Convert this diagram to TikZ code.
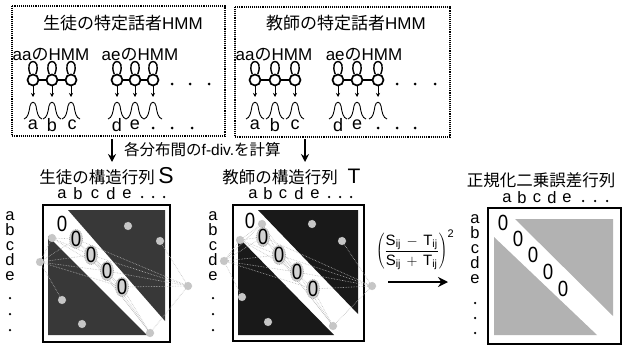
\documentclass[tikz,border=0pt]{standalone}
\usepackage{fontspec}
\setmainfont{Liberation Sans}
\newfontfamily\jp{Noto Sans CJK JP}
\usetikzlibrary{arrows.meta,shapes.geometric}
\definecolor{darkS}{gray}{0.22}
\definecolor{darkT}{gray}{0.10}
\definecolor{lightR}{gray}{0.70}
\begin{document}
\begin{tikzpicture}[x=1pt,y=-1pt,
  st/.style={circle,draw,line width=1.7pt,minimum size=11pt,inner sep=0pt},
  lbl/.style={inner sep=0pt,font=\fontsize{18}{18}\selectfont},
  rlbl/.style={inner sep=0pt,font=\fontsize{16.5}{16.5}\selectfont},
  rcol/.style={inner sep=0pt,align=center,font=\fontsize{16.5}{15}\selectfont},
  ttl/.style={inner sep=0pt,font=\fontsize{17}{17}\selectfont},
  mttl/.style={inner sep=0pt,font=\fontsize{16.5}{17}\selectfont},
  hmmt/.style={inner sep=0pt,font=\fontsize{17}{17}\selectfont},
  zero/.style={inner sep=0pt,font=\fontsize{22}{22}\selectfont,xscale=0.85},
  zring/.style={ellipse,draw=gray!70,densely dotted,line width=0.8pt,fill=gray!35,inner sep=0pt,minimum width=13pt,minimum height=19pt},
  dotn/.style={circle,fill,inner sep=0pt,minimum size=3pt},
  gnode/.style={circle,draw=gray!50,fill=gray!45,densely dotted,inner sep=0pt,minimum size=8pt},
  gedge/.style={gray!55,densely dotted,line width=0.6pt},
  box/.style={draw,densely dotted,line width=1.1pt},
  big/.style={-{Stealth[length=8pt,width=8pt]},line width=2.2pt}]
\useasboundingbox (0,0) rectangle (623,345);

% ---------------- top boxes ----------------
\draw[box] (12,6) rectangle (225,136);
\draw[box] (235,7) rectangle (450,137);
\node[ttl] (tl) at (123,23) {{\jp 生徒の特定話者}HMM};
\node[ttl] (tr) at (346,23) {{\jp 教師の特定話者}HMM};
\node[hmmt] (h1) at (51,55) {aa{\jp の}HMM};
\node[hmmt] (h2) at (140,55) {ae{\jp の}HMM};
\node[hmmt] (h3) at (274,55) {aa{\jp の}HMM};
\node[hmmt] (h4) at (364,55) {ae{\jp の}HMM};

% states
\foreach \n/\x in {1/33,2/52,3/71,4/117,5/135,6/153,7/255,8/275,9/295,10/338,11/357,12/378}{
  \node[st] (s\n) at (\x,80) {};
  \draw[line width=1.4pt] (s\n.115) .. controls +(-7,-17) and +(7,-17) .. (s\n.65);
  \coordinate (g\n) at (\x,97);
  \draw[-{Stealth[length=4pt,width=4pt]},line width=0.8pt] (s\n) -- (g\n);
  \draw[line width=0.9pt] (\x-9,119) .. controls (\x-5,118) and (\x-4,112) .. (\x-3,106)
        .. controls (\x-2,101) and (\x+2,101) .. (\x+3,106)
        .. controls (\x+4,112) and (\x+5,118) .. (\x+9,119);
}
\foreach \a/\b in {1/2,2/3,4/5,5/6,7/8,8/9,10/11,11/12}{
  \draw[line width=1.7pt] (s\a) -- (s\b);
}
\foreach \n/\x in {1/172,2/190,3/209,4/397,5/415,6/435}{
  \node[dotn] (d\n) at (\x,84) {};
}
% emitted symbols
\foreach \n/\x/\t in {1/33/a,2/52/b,3/72/c,4/117/d,5/135/e,6/255/a,7/275/b,8/295/c,9/338/d,10/357/e}{
  \node[lbl] (o\n) at (\x,125) {\t};
}
\foreach \n/\x in {1/153,2/172,3/192,4/378,5/397,6/415}{
  \node[dotn] (od\n) at (\x,128) {};
}

% ---------------- arrows and f-div text ----------------
\coordinate (a1s) at (112,139);
\coordinate (a1e) at (112,162);
\coordinate (a2s) at (305,139);
\coordinate (a2e) at (305,162);
\draw[big] (a1s) -- (a1e);
\draw[big] (a2s) -- (a2e);
\node[inner sep=0pt,font=\fontsize{15.5}{16}\selectfont,anchor=west] (fdiv) at (124,150) {{\jp 各分布間の}f-div.{\jp を計算}};

% ---------------- matrix S ----------------
\node[mttl,anchor=east] (sT) at (155,177) {\jp 生徒の構造行列};
\node[inner sep=0pt,font=\fontsize{23}{23}\selectfont] (sS) at (166,176) {S};
\fill[darkS] (68,210) -- (165,210) -- (165,321) -- cycle;
\fill[darkS] (48,236) -- (48,335) -- (147,335) -- cycle;
\draw[line width=1.5pt] (43,205) rectangle (170,342);
\foreach \n/\x in {1/62,2/78,3/95,4/111,5/127}{
  \node[rlbl] (sc\n) at (\x,194) {\ifcase\n\or a\or b\or c\or d\or e\fi};
}
\foreach \n/\x in {1/142,2/153,3/164}{\node[dotn,minimum size=2.5pt] (scd\n) at (\x,197) {};}
\node[rcol] (srows) at (10,246) {a\\b\\c\\d\\e};
\foreach \n/\y in {1/298,2/314,3/330}{\node[dotn,minimum size=2.5pt] (srd\n) at (10,\y) {};}
% graph overlay S
\node[gnode] (sn1) at (40,262) {};
\node[gnode] (sn2) at (52,238) {};
\node[gnode] (sn3) at (128,226) {};
\node[gnode] (sn4) at (160,241) {};
\node[gnode] (sn5) at (62,300) {};
\node[gnode] (sn6) at (82,324) {};
\node[gnode] (sn7) at (150,333) {};
\node[gnode] (sn8) at (188,286) {};
\coordinate (sz2) at (76,239);
\coordinate (sz3) at (91,255);
\coordinate (sz4) at (107,271);
\coordinate (sz5) at (122,287);
\foreach \u/\v in {sn1/sn2,sn1/sz2,sn1/sz3,sn1/sz4,sn1/sz5,sn1/sn5,sn2/sz2,sn2/sz3,
  sn8/sz2,sn8/sz3,sn8/sz4,sn8/sz5,sn8/sn7,sn8/sn4,sn7/sz3,sn7/sz4,sn7/sz5,
  sz2/sz4,sz3/sz5,sn2/sz4,sn7/sz2}{
  \draw[gedge] (\u) -- (\v);
}
\node[zero] (sz1n) at (62,224) {0};
\foreach \n/\x/\y in {2/76/239,3/91/255,4/107/271,5/122/287}{
  \node[zring] (szr\n) at (\x,\y) {};
  \node[zero] (szn\n) at (\x,\y) {0};
}

% ---------------- matrix T ----------------
\node[mttl,anchor=east] (tT) at (338,177) {\jp 教師の構造行列};
\node[inner sep=0pt,font=\fontsize{21}{21}\selectfont] (tTT) at (354,176) {T};
\fill[darkT] (258,210) -- (358,210) -- (358,314) -- cycle;
\fill[darkT] (238,237) -- (238,335) -- (334,335) -- cycle;
\draw[line width=1.5pt] (233,205) rectangle (364,341);
\foreach \n/\x in {1/253,2/268,3/283,4/299,5/315}{
  \node[rlbl] (tc\n) at (\x,194) {\ifcase\n\or a\or b\or c\or d\or e\fi};
}
\foreach \n/\x in {1/329,2/340,3/351}{\node[dotn,minimum size=2.5pt] (tcd\n) at (\x,197) {};}
\node[rcol] (trows) at (213,246) {a\\b\\c\\d\\e};
\foreach \n/\y in {1/298,2/314,3/330}{\node[dotn,minimum size=2.5pt] (trd\n) at (213,\y) {};}
% graph overlay T
\node[gnode] (tn1) at (262,224) {};
\node[gnode] (tn2) at (240,240) {};
\node[gnode] (tn3) at (224,261) {};
\node[gnode] (tn4) at (242,297) {};
\node[gnode] (tn5) at (312,224) {};
\node[gnode] (tn6) at (342,241) {};
\node[gnode] (tn7) at (268,322) {};
\node[gnode] (tn8) at (333,326) {};
\node[gnode] (tn9) at (372,286) {};
\coordinate (tz2) at (263,237);
\coordinate (tz3) at (279,255);
\coordinate (tz4) at (297,272);
\coordinate (tz5) at (313,289);
\foreach \u/\v in {tn3/tn2,tn3/tz2,tn3/tz3,tn3/tz4,tn3/tz5,tn3/tn4,tn3/tn1,tn2/tz2,tn2/tz3,tn2/tn1,
  tn1/tz3,tn1/tz4,tn9/tz2,tn9/tz3,tn9/tz4,tn9/tz5,tn9/tn8,tn9/tn6,tn8/tz3,tn8/tz4,tn8/tz5,
  tz2/tz4,tz3/tz5,tn8/tz2,tn2/tz4}{
  \draw[gedge] (\u) -- (\v);
}
\node[zero] (tz1n) at (250,221) {0};
\foreach \n/\x/\y in {2/263/237,3/279/255,4/297/272,5/313/289}{
  \node[zring] (tzr\n) at (\x,\y) {};
  \node[zero] (tzn\n) at (\x,\y) {0};
}

% ---------------- formula and arrow ----------------
\node[inner sep=0pt,font=\fontsize{15}{15}\selectfont] (frm) at (415,250)
  {$\displaystyle\left(\frac{\mbox{S\textsubscript{ij}}\,-\,\mbox{T\textsubscript{ij}}}{\mbox{S\textsubscript{ij}}\,+\,\mbox{T\textsubscript{ij}}}\right)^{\mbox{\fontsize{11}{11}\selectfont 2}}$};
\coordinate (a3s) at (388,282);
\coordinate (a3e) at (448,282);
\draw[-{Stealth[length=10pt,width=10pt]},line width=2.6pt] (a3s) -- (a3e);

% ---------------- result matrix ----------------
\node[mttl] (rT) at (541,180) {\jp 正規化二乗誤差行列};
\fill[lightR] (515,219) -- (613,219) -- (613,316) -- cycle;
\fill[lightR] (494,237) -- (494,335) -- (597,335) -- cycle;
\draw[line width=2pt] (488,208) rectangle (621,344);
\foreach \n/\x in {1/507,2/522,3/537,4/552,5/567}{
  \node[rlbl] (rc\n) at (\x,198) {\ifcase\n\or a\or b\or c\or d\or e\fi};
}
\foreach \n/\x in {1/583,2/595,3/607}{\node[dotn,minimum size=2.5pt] (rcd\n) at (\x,201) {};}
\node[rcol] (rrows) at (475,249) {a\\b\\c\\d\\e};
\foreach \n/\y in {1/303,2/318,3/333}{\node[dotn,minimum size=2.5pt] (rrd\n) at (475,\y) {};}
\foreach \n/\x/\y in {1/503/223,2/518/239,3/533/255,4/548/272,5/563/289}{
  \node[zero] (rz\n) at (\x,\y) {0};
}
\end{tikzpicture}
\end{document}
